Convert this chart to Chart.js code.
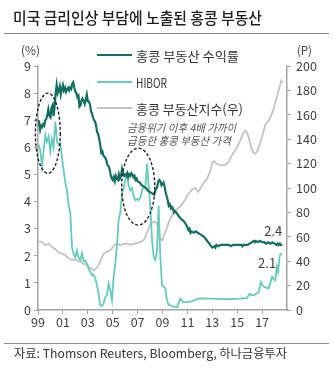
<!DOCTYPE html>
<html>
<head>
<meta charset="utf-8">
<script src="https://cdn.jsdelivr.net/npm/chart.js@4.4.1/dist/chart.umd.min.js"></script>
<style>
  body { margin: 0; background: #fff; }
  #wrap { position: relative; width: 333px; height: 368px; overflow: hidden; font-family: "Noto Sans CJK KR", sans-serif; color: #333; }
  #wrap canvas { position: absolute; left: 0; top: 0; }
  .txt { position: absolute; white-space: nowrap; line-height: 1; transform-origin: left center; }
  .rule { position: absolute; left: 4px; width: 325px; height: 1px; background: #8c8c8c; }
  .key { position: absolute; left: 97px; width: 35px; height: 2px; }
</style>
</head>
<body>
<div id="wrap">
  <canvas id="chart" width="333" height="368"></canvas>

  <div class="txt" data-x="13" data-y="17" data-w="249" style="font-size:16px;font-weight:500;color:#1e1e1e;">미국 금리인상 부담에 노출된 홍콩 부동산</div>
  <div class="rule" style="top:33px;"></div>

  <div class="txt" data-x="21" data-y="50" data-w="19" style="font-size:12px;color:#404040;">(%)</div>
  <div class="txt" data-x="297" data-y="50" data-w="15" style="font-size:12px;color:#404040;">(P)</div>

  <div class="key" style="top:54px;background:#13705f;"></div>
  <div class="txt" data-x="136" data-y="55" data-w="103" style="font-size:13px;color:#333;">홍콩 부동산 수익률</div>
  <div class="key" style="top:81px;background:#63cdb9;"></div>
  <div class="txt" data-x="136" data-y="82" data-w="31" style="font-size:13px;color:#333;">HIBOR</div>
  <div class="key" style="top:107px;background:#c3c3c3;"></div>
  <div class="txt" data-x="136" data-y="108" data-w="107" style="font-size:13px;color:#333;">홍콩 부동산지수(우)</div>

  <div class="txt" data-x="127" data-y="127" data-w="109" style="font-size:11px;font-style:italic;color:#555;">금융위기 이후 4배 가까이</div>
  <div class="txt" data-x="127" data-y="140" data-w="104" style="font-size:11px;font-style:italic;color:#555;">급등한 홍콩 부동산 가격</div>

  <div class="rule" style="top:343px;"></div>
  <div class="txt" data-x="14" data-y="353" data-w="273" style="font-size:12px;color:#333;">자료: Thomson Reuters, Bloomberg, 하나금융투자</div>
</div>

<script>
// ====================== Data ======================
const yieldYears = [1999.00,1999.08,1999.17,1999.25,1999.33,1999.42,1999.50,1999.58,1999.67,1999.75,1999.83,1999.92,
  2000.00,2000.08,2000.17,2000.25,2000.33,2000.42,2000.50,2000.58,2000.67,2000.75,2000.83,2000.92,
  2001.00,2001.08,2001.17,2001.25,2001.33,2001.42,2001.50,2001.58,2001.67,2001.75,2001.83,2001.92,
  2002.00,2002.08,2002.17,2002.25,2002.33,2002.42,2002.50,2002.58,2002.67,2002.75,2002.83,2002.92,
  2003.00,2003.08,2003.17,2003.25,2003.33,2003.42,2003.50,2003.58,2003.67,2003.75,2003.83,2003.92,
  2004.00,2004.08,2004.17,2004.25,2004.33,2004.42,2004.50,2004.58,2004.67,2004.75,2004.83,2004.92,
  2005.00,2005.08,2005.17,2005.25,2005.33,2005.42,2005.50,2005.58,2005.67,2005.75,2005.83,2005.92,
  2006.00,2006.08,2006.17,2006.25,2006.33,2006.42,2006.50,2006.58,2006.67,2006.75,2006.83,2006.92,
  2007.00,2007.17,2007.33,2007.50,2007.67,2007.83,2008.00,2008.17,2008.33,2008.42,2008.58,2008.67,
  2008.75,2008.83,2008.92,2009.00,2009.08,2009.17,2009.25,2009.33,2009.42,2009.50,2009.58,2009.67,
  2009.75,2009.83,2009.92,2010.00,2010.17,2010.33,2010.50,2010.67,2010.83,2011.00,2011.08,2011.17,
  2011.25,2011.33,2011.50,2011.67,2011.83,2012.00,2012.17,2012.33,2012.50,2012.67,2012.83,2013.00,
  2013.17,2013.25,2013.33,2013.50,2013.67,2014.00,2014.33,2014.50,2014.67,2015.00,2015.33,2015.42,
  2015.50,2015.83,2016.00,2016.17,2016.33,2016.42,2016.50,2016.67,2016.83,2017.00,2017.17,2017.33,
  2017.50,2017.67,2017.83,2018.00,2018.17,2018.25,2018.33,2018.42,2018.50,2018.62];
const yieldValues = [7.0,6.9,6.65,6.8,6.75,6.85,6.8,7.0,7.05,7.2,7.4,7.15,
  7.1,7.45,7.55,7.15,7.5,8.0,8.3,8.0,8.1,8.25,7.95,8.15,
  8.3,8.1,8.2,8.05,8.15,8.2,8.1,8.2,8.15,8.35,8.4,8.2,
  8.05,8.0,7.85,7.9,7.5,7.55,7.75,7.8,7.7,7.6,7.75,7.95,
  7.7,7.7,7.6,7.35,7.25,7.1,7.0,6.95,6.8,6.55,6.5,6.3,
  6.1,5.8,5.85,5.7,5.65,5.6,5.5,5.35,5.3,5.2,5.0,4.85,
  4.8,4.9,4.75,4.95,4.85,4.8,5.0,4.85,4.95,5.2,5.05,4.95,
  5.0,4.95,5.05,4.9,5.0,4.95,5.05,5.0,4.9,4.95,4.8,4.85,
  4.75,4.7,4.6,4.55,4.5,4.4,4.35,4.3,4.25,4.4,4.55,4.75,
  4.8,4.75,4.6,4.65,4.7,4.55,4.35,4.2,4.05,3.85,3.9,3.75,
  3.8,3.75,3.6,3.65,3.55,3.45,3.35,3.3,3.2,3.05,2.95,3.0,
  2.85,2.9,2.85,2.9,2.85,2.8,2.75,2.7,2.6,2.5,2.4,2.3,
  2.35,2.3,2.4,2.35,2.4,2.4,2.4,2.35,2.4,2.4,2.4,2.35,
  2.4,2.4,2.45,2.5,2.55,2.5,2.55,2.5,2.55,2.5,2.5,2.45,
  2.5,2.45,2.5,2.45,2.4,2.45,2.4,2.45,2.4,2.4];

const hiborYears = [1999.05,1999.18,1999.32,1999.45,1999.59,1999.71,1999.85,1999.99,2000.12,2000.25,2000.39,2000.53,
  2000.65,2000.79,2000.93,2001.06,2001.19,2001.33,2001.46,2001.59,2001.73,2001.86,2002.00,2002.13,
  2002.24,2002.40,2002.53,2002.66,2002.80,2002.94,2003.06,2003.20,2003.34,2003.47,2003.60,2003.74,
  2003.87,2004.00,2004.14,2004.27,2004.41,2004.54,2004.67,2004.81,2004.94,2005.07,2005.21,2005.35,
  2005.47,2005.61,2005.75,2005.88,2006.01,2006.15,2006.28,2006.41,2006.55,2006.68,2006.82,2006.95,
  2007.08,2007.22,2007.35,2007.48,2007.62,2007.76,2007.88,2008.02,2008.16,2008.29,2008.42,2008.56,
  2008.69,2008.82,2008.96,2009.09,2009.23,2009.36,2009.49,2009.62,2009.89,2010.16,2010.43,2010.55,
  2010.69,2010.96,2011.22,2011.50,2011.77,2012.04,2012.84,2013.64,2014.44,2015.24,2015.79,2016.00,
  2016.14,2016.32,2016.54,2016.72,2016.91,2017.06,2017.26,2017.52,2017.80,2017.93,2018.06,2018.18,
  2018.28,2018.41,2018.50,2018.58];
const hiborValues = [6.1,5.9,5.3,5.9,6.45,6.2,6.4,5.85,6.3,6.0,6.95,6.2,
  6.1,6.15,5.6,5.15,4.7,4.4,3.86,3.6,2.3,2.08,1.95,2.2,
  1.95,1.85,2.1,1.8,1.83,1.7,1.53,1.4,1.28,1.3,1.17,0.9,
  0.6,0.17,0.15,0.25,0.48,0.55,0.98,0.72,0.36,1.2,1.72,2.4,
  3.3,3.6,4.3,4.5,4.8,5.0,4.6,4.4,4.5,4.2,4.05,4.1,
  4.05,4.15,4.4,4.55,4.5,5.4,4.6,3.8,2.6,1.96,1.85,2.2,
  3.85,2.0,0.9,0.85,0.8,0.36,0.2,0.17,0.12,0.1,0.42,0.35,
  0.28,0.3,0.3,0.35,0.4,0.43,0.42,0.4,0.4,0.42,0.45,0.6,
  0.55,0.55,0.6,0.66,1.03,0.9,0.83,0.8,1.22,1.15,1.1,1.6,
  1.4,2.0,2.05,2.1];

const indexYears = [1999.00,1999.18,1999.35,1999.59,1999.83,1999.99,2000.15,2000.39,2000.63,2000.95,2001.19,2001.43,
  2001.67,2001.92,2002.16,2002.40,2002.64,2002.88,2003.12,2003.36,2003.52,2003.68,2003.84,2004.00,
  2004.16,2004.33,2004.49,2004.65,2004.81,2004.97,2005.21,2005.45,2005.61,2005.85,2006.09,2006.41,
  2006.73,2007.06,2007.30,2007.54,2007.70,2007.86,2008.02,2008.18,2008.34,2008.51,2008.67,2008.82,
  2008.98,2009.15,2009.31,2009.47,2009.63,2009.87,2010.11,2010.43,2010.67,2010.91,2011.15,2011.39,
  2011.63,2011.87,2012.12,2012.36,2012.60,2012.84,2013.00,2013.16,2013.32,2013.56,2013.80,2014.04,
  2014.28,2014.53,2014.77,2015.01,2015.25,2015.49,2015.65,2015.81,2015.97,2016.13,2016.29,2016.45,
  2016.61,2016.78,2016.94,2017.10,2017.26,2017.42,2017.58,2017.74,2017.90,2018.06,2018.22,2018.38,
  2018.54,2018.65];
const indexValues = [56,56,55.5,53,54.5,53,51.5,50,47.5,46,45,42.5,
  41,41.5,40.5,39.5,38,37,35,33.5,32.5,34,36.5,40,
  44,46.5,47.5,48,49,51,54,54,53,54,54.5,53.5,
  54.5,55,56,58,62,66,70,72,72.5,71,67,59,
  57,62,66,71,75,79,82,85,88,92,96,99,
  100,97,101,105,108,114,121,122,120,119,118.5,119,
  121,126,130,134,139,145,147,145,140,133,129,128,
  130,135,140,146,152,154,156,160,164,170,176,182,
  188,186];

const xTickYears = [1999, 2001, 2003, 2005, 2007, 2009, 2011, 2013, 2015, 2017];
const xTickLabels = ['99', '01', '03', '05', '07', '09', '11', '13', '15', '17'];
const leftTicks = [0, 1, 2, 3, 4, 5, 6, 7, 8, 9];
const rightTicks = [0, 20, 40, 60, 80, 100, 120, 140, 160, 180, 200];

// dashed circles (centre year, centre value, half width in years, half height in %)
const circles = [
  { x: 1999.79, y: 6.52, rx: 1.0, ry: 1.48 },
  { x: 2007.05, y: 4.55, rx: 1.33, ry: 1.42 }
];
// end labels
const endLabels = [
  { text: '2.4', x: 2017.9, y: 2.92 },
  { text: '2.1', x: 2017.4, y: 1.77 }
];

// ====================== Text placement ======================
document.querySelectorAll('#wrap .txt').forEach(el => {
  const w = el.getBoundingClientRect().width;
  const h = el.getBoundingClientRect().height;
  el.style.left = el.dataset.x + 'px';
  el.style.top = (parseFloat(el.dataset.y) - h / 2) + 'px';
  if (el.dataset.w) el.style.transform = `scaleX(${parseFloat(el.dataset.w) / w})`;
});

// ====================== Chart ======================
const pairs = (xs, ys) => xs.map((x, i) => ({ x: x, y: ys[i] }));
const axisColor = '#a3a3a3';
const tickFont = { family: '"Noto Sans CJK KR", sans-serif', size: 12.5 };

const circlePlugin = {
  id: 'circles',
  afterDatasetsDraw(chart) {
    const { ctx, scales: { x, y } } = chart;
    ctx.save();
    ctx.setLineDash([3, 2]);
    ctx.lineWidth = 1.4;
    ctx.strokeStyle = '#222';
    circles.forEach(c => {
      const cx = x.getPixelForValue(c.x);
      const cy = y.getPixelForValue(c.y);
      const rx = x.getPixelForValue(c.x + c.rx) - cx;
      const ry = cy - y.getPixelForValue(c.y + c.ry);
      ctx.beginPath();
      ctx.ellipse(cx, cy, rx, ry, 0, 0, Math.PI * 2);
      ctx.stroke();
    });
    ctx.restore();
  }
};

const chart = new Chart(document.getElementById('chart'), {
  type: 'line',
  data: {
    datasets: [
      { label: '홍콩 부동산 수익률', data: pairs(yieldYears, yieldValues), borderColor: '#13705f', borderWidth: 2.2, yAxisID: 'y' },
      { label: 'HIBOR', data: pairs(hiborYears, hiborValues), borderColor: '#63cdb9', borderWidth: 1.8, yAxisID: 'y' },
      { label: '홍콩 부동산지수(우)', data: pairs(indexYears, indexValues), borderColor: '#c3c3c3', borderWidth: 1.8, yAxisID: 'y1' }
    ]
  },
  options: {
    responsive: false,
    animation: false,
    devicePixelRatio: 1,
    layout: { padding: { top: 66, left: 0, right: 0, bottom: 0 } },
    elements: { point: { radius: 0 }, line: { tension: 0 } },
    plugins: { legend: { display: false }, tooltip: { enabled: false } },
    scales: {
      x: {
        type: 'linear', min: 1999, max: 2019,
        afterBuildTicks: s => { s.ticks = xTickYears.map(v => ({ value: v })); },
        afterFit: s => { s.height = 58; },
        ticks: { callback: v => xTickLabels[xTickYears.indexOf(v)], color: '#404040', font: tickFont, padding: 1, maxRotation: 0, autoSkip: false },
        grid: { drawOnChartArea: false, tickLength: 4, color: axisColor },
        border: { color: axisColor, width: 1.5 }
      },
      y: {
        position: 'left', min: 0, max: 9,
        afterBuildTicks: s => { s.ticks = leftTicks.map(v => ({ value: v })); },
        afterFit: s => { s.width = 38; },
        ticks: { color: '#404040', font: tickFont, padding: 3 },
        grid: { drawOnChartArea: false, tickLength: 4, color: axisColor },
        border: { color: axisColor, width: 1.5 }
      },
      y1: {
        position: 'right', min: 0, max: 200,
        afterBuildTicks: s => { s.ticks = rightTicks.map(v => ({ value: v })); },
        afterFit: s => { s.width = 46; },
        ticks: { color: '#404040', font: tickFont, padding: 5 },
        grid: { drawOnChartArea: false, tickLength: 4, color: axisColor },
        border: { color: axisColor, width: 1.5 }
      }
    }
  },
  plugins: [circlePlugin]
});

// end value labels, placed through the scales
endLabels.forEach(l => {
  const el = document.createElement('div');
  el.className = 'txt';
  el.textContent = l.text;
  el.style.fontSize = '13px';
  el.style.color = '#404040';
  document.getElementById('wrap').appendChild(el);
  const r = el.getBoundingClientRect();
  el.style.left = (chart.scales.x.getPixelForValue(l.x) - r.width / 2) + 'px';
  el.style.top = (chart.scales.y.getPixelForValue(l.y) - r.height / 2) + 'px';
});
</script>
</body>
</html>
